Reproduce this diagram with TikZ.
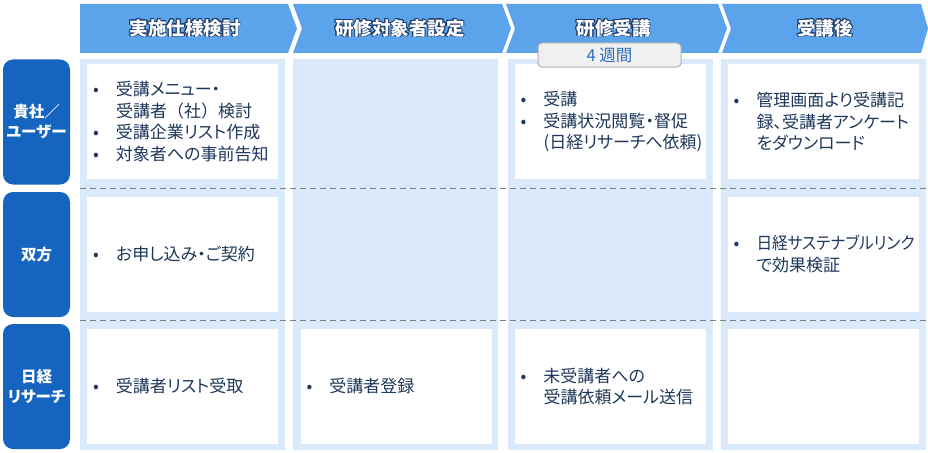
\documentclass[tikz,border=0pt]{standalone}
\usepackage{fontspec}
\setmainfont{Noto Sans CJK JP}[RawFeature=+palt]
\newfontfamily\jpfull{Noto Sans CJK JP}
\usepackage{contour}
\contourlength{0.8pt}
\usetikzlibrary{positioning}
\definecolor{hdrblue}{HTML}{5BA3EB}
\definecolor{hdrdark}{HTML}{1F3F6F}
\definecolor{rowblue}{HTML}{1565C0}
\definecolor{bgblue}{HTML}{DAEAFA}
\definecolor{txtnavy}{HTML}{1E375A}
\definecolor{sepgray}{HTML}{808080}
\definecolor{wkfill}{HTML}{F0F0F0}
\definecolor{wkborder}{HTML}{AFAFAF}
\definecolor{wkblue}{HTML}{2E6EBE}
\newcommand{\bitem}[1]{\makebox[23pt][l]{•}#1}
\newcommand{\bcont}[1]{\hspace*{23pt}#1}

\begin{document}
\begin{tikzpicture}[x=1pt, y=-1pt,
  hdrtext/.style={font=\bfseries\fontsize{18.5}{20}\selectfont, text=white},
  rowlabel/.style={fill=rowblue, rounded corners=10pt, minimum width=67pt, minimum height=125pt, inner sep=0pt, align=center, text=white, font=\bfseries\fontsize{15.5}{20}\selectfont},
  colbg/.style={fill=bgblue, minimum width=205pt, minimum height=391pt, inner sep=0pt},
  cell/.style={fill=white, minimum width=191pt, minimum height=115pt, inner sep=0pt},
  celltext/.style={align=left, inner sep=0pt, text=txtnavy, font=\fontsize{17}{21.5}\selectfont},
  weekbox/.style={fill=wkfill, draw=wkborder, line width=1pt, rounded corners=4pt, minimum width=143pt, minimum height=24pt, inner sep=0pt, text=wkblue, font=\fontsize{16.5}{18}\selectfont},
  sep/.style={draw=sepgray, dash pattern=on 6pt off 4pt, line width=1pt}]
\useasboundingbox (0,0) rectangle (928,452);

\fill[hdrblue] (80,4) -- (288,4) -- (297,28.5) -- (288,53) -- (80,53) -- cycle;
\fill[hdrblue] (293,4) -- (502,4) -- (511,28.5) -- (502,53) -- (293,53) -- (302,28.5) -- cycle;
\fill[hdrblue] (506,4) -- (718,4) -- (727,28.5) -- (718,53) -- (506,53) -- (515,28.5) -- cycle;
\fill[hdrblue] (722,4) -- (921,4) -- (928,28.5) -- (921,53) -- (722,53) -- (731,28.5) -- cycle;

\node[hdrtext] (h1) at (185,28.5) {\contour{hdrdark}{実施仕様検討}};
\node[hdrtext] (h2) at (400,28.5) {\contour{hdrdark}{研修対象者設定}};
\node[hdrtext] (h3) at (613.5,28.5) {\contour{hdrdark}{研修受講}};
\node[hdrtext] (h4) at (825,28.5) {\contour{hdrdark}{受講後}};

\node[rowlabel] (r1) at (36.5,122) {貴社／\\ユーザー};
\node[rowlabel] (r2) at (36.5,254.5) {双方};
\node[rowlabel] (r3) at (36.5,386.5) {日経\\リサーチ};

\node[colbg] (b1) at (182.5,254.5) {};
\node[colbg] (b2) at (395.5,254.5) {};
\node[colbg] (b3) at (610,254.5) {};
\node[colbg] (b4) at (823.5,254.5) {};

\node[cell] (w11) at (182.5,121.5) {};
\node[cell] (w31) at (610,121.5) {};
\node[cell] (w41) at (823,121.5) {};
\node[cell] (w12) at (182.5,254) {};
\node[cell] (w42) at (823,254) {};
\node[cell] (w13) at (182.5,386.5) {};
\node[cell] (w23) at (396,386.5) {};
\node[cell] (w33) at (610,386.5) {};
\node[cell] (w43) at (823,386.5) {};

\node[celltext, right=6pt of w11.west] (t11) {\bitem{受講メニュー・}\\\bcont{{\jpfull 受講者（社）検討}}\\\bitem{受講企業リスト作成}\\\bitem{対象者への事前告知}};
\node[celltext, right=6pt of w31.west] (t31) {\bitem{受講}\\\bitem{受講状況閲覧・督促}\\\bcont{(日経リサーチへ依頼)}};
\node[celltext, right=6pt of w41.west] (t41) {\bitem{管理画面より受講記}\\\bcont{録、受講者アンケート}\\\bcont{をダウンロード}};
\node[celltext, right=6pt of w12.west] (t12) {\bitem{お申し込み・ご契約}};
\node[celltext, right=6pt of w42.west] (t42) {\bitem{{\addfontfeature{FakeStretch=0.92}日経サステナブルリンク}}\\\bcont{で効果検証}};
\node[celltext, right=6pt of w13.west] (t13) {\bitem{受講者リスト受取}};
\node[celltext, right=6pt of w23.west] (t23) {\bitem{受講者登録}};
\node[celltext, right=6pt of w33.west] (t33) {\bitem{未受講者への}\\\bcont{受講依頼メール送信}};

\coordinate (s1a) at (80,188);
\coordinate (s1b) at (928,188);
\coordinate (s2a) at (80,320);
\coordinate (s2b) at (928,320);
\draw[sep] (s1a) -- (s1b);
\draw[sep] (s2a) -- (s2b);

\node[weekbox] (wk) at (609.5,55) {4 週間};
\end{tikzpicture}
\end{document}
